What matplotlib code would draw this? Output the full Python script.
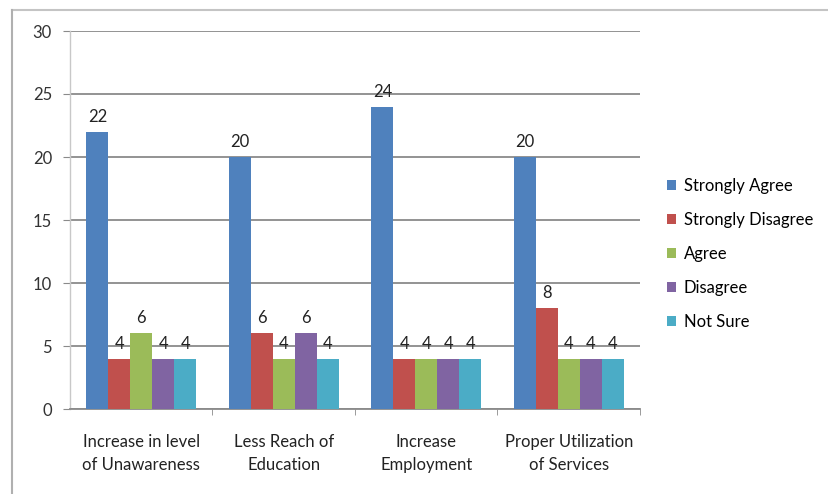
import matplotlib
matplotlib.use("Agg")
import matplotlib.pyplot as plt
from matplotlib.lines import Line2D
import numpy as np

categories = ["Increase in level\nof Unawareness", "Less Reach of\nEducation",
              "Increase\nEmployment", "Proper Utilization\nof Services"]
series_names = ["Strongly Agree", "Strongly Disagree", "Agree", "Disagree", "Not Sure"]
strongly_agree = [22, 20, 24, 20]
strongly_disagree = [4, 6, 4, 8]
agree = [6, 4, 4, 4]
disagree = [4, 6, 4, 4]
not_sure = [4, 4, 4, 4]
y_ticks = [0, 5, 10, 15, 20, 25, 30]

series_values = [strongly_agree, strongly_disagree, agree, disagree, not_sure]
colors = ["#4F81BD", "#C0504D", "#9BBB59", "#8064A2", "#4BACC6"]

plt.rcParams["font.family"] = ["Lato", "DejaVu Sans"]
plt.rcParams["font.size"] = 12

W, H = 829, 494
fig = plt.figure(figsize=(W / 100, H / 100), dpi=100)
fig.patch.set_facecolor("white")

# axes placed in pixel terms
left, right, top, bottom = 70, 640, 31, 409
ax = fig.add_axes([left / W, (H - bottom) / H, (right - left) / W, (bottom - top) / H])

n_cat = len(categories)
n_ser = len(series_values)
bar_w = 1.0 / (n_ser + 1.5)
centers = np.arange(n_cat) + 0.5

for j, (name, vals, c) in enumerate(zip(series_names, series_values, colors)):
    xs = centers + (j - (n_ser - 1) / 2) * bar_w
    ax.bar(xs, vals, width=bar_w, color=c, label=name, zorder=3, linewidth=0)
    for x, v in zip(xs, vals):
        ax.annotate(str(v), (x, v), xytext=(0, 5), textcoords="offset points",
                    ha="center", va="bottom", fontsize=12, color="#222222")

ax.set_xlim(0, n_cat)
ax.set_ylim(0, 30)
ax.set_yticks(y_ticks)
ax.set_yticklabels([str(t) for t in y_ticks], color="#333333")
ax.yaxis.grid(True, color="#8a8a8a", linewidth=1.3, zorder=0)
ax.set_axisbelow(True)

ax.set_xticks(centers)
ax.set_xticklabels(categories, linespacing=1.55, color="#222222")
ax.set_xticks(np.arange(n_cat + 1)[1:], minor=True)
ax.tick_params(axis="x", which="major", length=0, pad=18)
ax.tick_params(axis="x", which="minor", length=4.5, color="#8a8a8a", direction="out")
ax.tick_params(axis="y", length=5, color="#8a8a8a", pad=8)

for s in ["top", "right"]:
    ax.spines[s].set_visible(False)
ax.spines["left"].set_color("#c8c8c8")
ax.spines["left"].set_linewidth(1.0)
ax.spines["bottom"].set_color("#8a8a8a")
ax.spines["bottom"].set_linewidth(1.3)

fig.legend(loc="upper left", bbox_to_anchor=(652 / W, 1 - 163 / H),
           frameon=False, handlelength=0.55, handleheight=0.55,
           handletextpad=0.45, labelspacing=1.08, fontsize=12)

# outer chart border (top and left edges)
fig.add_artist(Line2D([12 / W, 1.0], [1 - 10 / H, 1 - 10 / H], color="#c4c4c4", linewidth=1.5))
fig.add_artist(Line2D([12 / W, 12 / W], [1 - 10 / H, 0.0], color="#b0b0b0", linewidth=1.5))

fig.savefig("out.png", dpi=100, facecolor="white")
